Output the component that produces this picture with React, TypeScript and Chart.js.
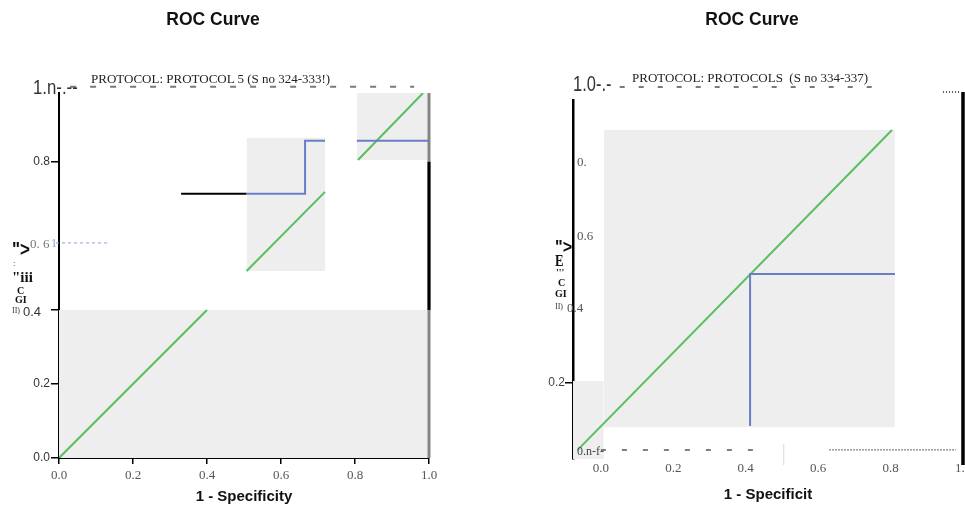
import React, { useEffect, useRef } from "react";
import { Chart, registerables } from "chart.js";
Chart.register(...registerables);

type P = { x: number; y: number | null };

// ---------- Left panel: PROTOCOL 5 ----------
const leftXTicks = [0, 0.2, 0.4, 0.6, 0.8, 1.0];
const leftXLabels = ["0.0", "0.2", "0.4", "0.6", "0.8", "1.0"];
const leftYTicks = [0, 0.2, 0.4, 0.6, 0.8];
const leftYLabels = ["0.0", "0.2", "", "", "0.8"];
const leftYTickMarks = [true, true, true, false, true];
const leftShadeLow: P[] = [{ x: 0, y: 0.4 }, { x: 1, y: 0.4 }];
const leftShadeLowBase = 0;
const leftShadeMid: P[] = [{ x: 0.507, y: 0.865 }, { x: 0.72, y: 0.865 }];
const leftShadeMidBase = 0.505;
const leftShadeTop: P[] = [{ x: 0.805, y: 0.986 }, { x: 1, y: 0.986 }];
const leftShadeTopBase = 0.805;
const leftReference: P[] = [
  { x: 0, y: 0 }, { x: 0.4, y: 0.4 }, { x: 0.45, y: null },
  { x: 0.507, y: 0.505 }, { x: 0.719, y: 0.719 }, { x: 0.76, y: null },
  { x: 0.808, y: 0.805 }, { x: 0.984, y: 0.986 },
];
const leftLead: P[] = [{ x: 0.33, y: 0.714 }, { x: 0.507, y: 0.714 }];
const leftCurveA: P[] = [
  { x: 0.507, y: 0.714 }, { x: 0.665, y: 0.714 }, { x: 0.665, y: 0.857 }, { x: 0.719, y: 0.857 },
];
const leftCurveB: P[] = [{ x: 0.805, y: 0.857 }, { x: 1, y: 0.857 }];
const leftEdgeGrey: P[] = [{ x: 1, y: 0 }, { x: 1, y: 0.986 }];
const leftEdgeBlack: P[] = [{ x: 1, y: 0.4 }, { x: 1, y: 0.8 }];
const leftSixMark: P[] = [{ x: -0.008, y: 0.581 }, { x: 0.132, y: 0.581 }];
const leftTopDash: P[] = [{ x: 0.03, y: 1.003 }, { x: 0.96, y: 1.003 }];

// ---------- Right panel: PROTOCOLS ----------
const rightXTicks = [0, 0.2, 0.4, 0.6, 0.8, 1.0];
const rightXLabels = ["0.0", "0.2", "0.4", "0.6", "0.8", "1.0"];
const rightYTicks = [0.2];
const rightYLabels = ["0.2"];
const rightShadeLeft: P[] = [{ x: -0.077, y: 0.206 }, { x: 0.008, y: 0.206 }];
const rightShadeLeftBase = 0;
const rightShadeMain: P[] = [{ x: 0.008, y: 0.868 }, { x: 0.812, y: 0.868 }];
const rightShadeMainBase = 0.084;
const rightReference: P[] = [{ x: -0.064, y: 0.024 }, { x: 0.804, y: 0.868 }];
const rightCurve: P[] = [{ x: 0.412, y: 0.087 }, { x: 0.412, y: 0.488 }, { x: 0.812, y: 0.488 }];
const rightEdge: P[] = [{ x: 1, y: -0.016 }, { x: 1, y: 0.968 }];
const rightTopDash: P[] = [{ x: 0.052, y: 0.981 }, { x: 0.757, y: 0.981 }];
const rightTopDots: P[] = [{ x: 0.945, y: 0.968 }, { x: 0.99, y: 0.968 }];
const rightBottomDash: P[] = [{ x: 0.0, y: 0.024 }, { x: 0.45, y: 0.024 }];
const rightBottomDots: P[] = [{ x: 0.63, y: 0.024 }, { x: 0.98, y: 0.024 }];
const rightFaint: P[] = [{ x: 0.505, y: -0.016 }, { x: 0.505, y: 0.04 }];

const SANS = "'Liberation Sans', Arial, sans-serif";
const SERIF = "'Liberation Serif', 'Times New Roman', serif";
const NARROW = "'Liberation Sans Narrow', 'Liberation Sans', Arial, sans-serif";
const GREEN = "#58bf5e";
const BLUE = "#6a7ec6";
const SHADE = "#eeeeee";

const lineDs = (data: P[], color: string, width: number, opts: any = {}) => ({
  type: "line",
  data,
  borderColor: color,
  backgroundColor: color,
  borderWidth: width,
  pointRadius: 0,
  pointHoverRadius: 0,
  fill: false,
  tension: 0,
  spanGaps: false,
  order: 1,
  ...opts,
});

const shadeDs = (data: P[], base: number) => ({
  type: "line",
  data,
  borderWidth: 0,
  borderColor: "rgba(0,0,0,0)",
  backgroundColor: SHADE,
  fill: { value: base },
  pointRadius: 0,
  pointHoverRadius: 0,
  tension: 0,
  order: 9,
});

const fixTicks = (vals: number[]) => (s: any) => {
  s.ticks = vals.map((v) => ({ value: v }));
};

function leftConfig(): any {
  return {
    type: "line",
    data: {
      datasets: [
        shadeDs(leftShadeLow, leftShadeLowBase),
        shadeDs(leftShadeMid, leftShadeMidBase),
        shadeDs(leftShadeTop, leftShadeTopBase),
        lineDs(leftEdgeGrey, "#858585", 3, { order: 4, clip: false }),
        lineDs(leftEdgeBlack, "#000", 3, { order: 3, clip: false }),
        lineDs(leftReference, GREEN, 2, { order: 2 }),
        lineDs(leftLead, "#000", 2, { order: 1 }),
        lineDs(leftCurveA, BLUE, 2, { order: 0 }),
        lineDs(leftCurveB, BLUE, 2, { order: 0 }),
        lineDs(leftSixMark, "#8fa0d6", 1, { borderDash: [3, 3], clip: false }),
        lineDs(leftTopDash, "#7a7a7a", 2, { borderDash: [6, 14], clip: false }),
      ],
    },
    options: {
      animation: false,
      responsive: false,
      devicePixelRatio: 1,
      events: [],
      layout: { padding: { top: 93, right: 53, left: 0, bottom: 0 } },
      plugins: { legend: { display: false }, tooltip: { enabled: false }, title: { display: false } },
      scales: {
        x: {
          type: "linear",
          min: 0,
          max: 1,
          afterBuildTicks: fixTicks(leftXTicks),
          afterFit: (s: any) => { s.height = 49; },
          grid: { drawOnChartArea: false, drawTicks: true, tickLength: 6, color: "#000", lineWidth: 1.5 },
          border: { display: true, color: "#000", width: 2 },
          ticks: {
            callback: (_v: any, i: number) => leftXLabels[i],
            font: { family: SERIF, size: 13 },
            color: "#555",
            padding: 4,
            maxRotation: 0,
            autoSkip: false,
          },
          title: {
            display: true,
            text: "1 - Specificity",
            font: { family: SANS, size: 15, weight: "bold" },
            color: "#111",
            padding: { top: 0, bottom: 1 },
          },
        },
        y: {
          type: "linear",
          min: 0,
          max: 0.986,
          afterBuildTicks: fixTicks(leftYTicks),
          afterFit: (s: any) => { s.width = 59; },
          grid: {
            drawOnChartArea: false,
            drawTicks: true,
            tickLength: 8,
            lineWidth: 1.5,
            color: (ctx: any) => (leftYTickMarks[ctx.index] ? "#000" : "rgba(0,0,0,0)"),
          },
          border: { display: true, color: "#000", width: 2 },
          ticks: {
            callback: (_v: any, i: number) => leftYLabels[i],
            font: { family: NARROW, size: 12 },
            color: "#333",
            padding: 1,
            autoSkip: false,
          },
        },
      },
    },
  };
}

function rightConfig(): any {
  return {
    type: "line",
    data: {
      datasets: [
        shadeDs(rightShadeLeft, rightShadeLeftBase),
        shadeDs(rightShadeMain, rightShadeMainBase),
        lineDs(rightEdge, "#000", 3.5, { clip: false, order: 3 }),
        lineDs(rightReference, GREEN, 2, { order: 2 }),
        lineDs(rightCurve, BLUE, 2, { order: 0 }),
        lineDs(rightTopDash, "#7a7a7a", 2, { borderDash: [5, 14], clip: false }),
        lineDs(rightTopDots, "#555", 2, { borderDash: [1, 2], clip: false }),
        lineDs(rightBottomDash, "#555", 1.5, { borderDash: [5, 16] }),
        lineDs(rightBottomDots, "#666", 1, { borderDash: [2, 1] }),
        lineDs(rightFaint, "#d8d8d8", 1, { clip: false }),
      ],
    },
    options: {
      animation: false,
      responsive: false,
      devicePixelRatio: 1,
      events: [],
      layout: { padding: { top: 100, right: 19, left: 0, bottom: 0 } },
      plugins: { legend: { display: false }, tooltip: { enabled: false }, title: { display: false } },
      scales: {
        x: {
          type: "linear",
          min: -0.077,
          max: 1,
          afterBuildTicks: fixTicks(rightXTicks),
          afterFit: (s: any) => { s.height = 48; },
          grid: { drawOnChartArea: false, drawTicks: false, display: true, color: "rgba(0,0,0,0)" },
          border: { display: false },
          ticks: {
            callback: (_v: any, i: number) => rightXLabels[i],
            font: { family: SERIF, size: 13 },
            color: "#555",
            padding: 2,
            maxRotation: 0,
            autoSkip: false,
          },
          title: {
            display: true,
            text: "1 - Specificit",
            font: { family: SANS, size: 15, weight: "bold" },
            color: "#111",
            padding: { top: 0, bottom: 3 },
          },
        },
        y: {
          type: "linear",
          min: 0,
          max: 0.947,
          afterBuildTicks: fixTicks(rightYTicks),
          afterFit: (s: any) => { s.width = 91; },
          grid: { drawOnChartArea: false, drawTicks: true, tickLength: 8, lineWidth: 1.5, color: "#000" },
          border: { display: true, color: "#000", width: 2.5 },
          ticks: {
            callback: (_v: any, i: number) => rightYLabels[i],
            font: { family: NARROW, size: 12 },
            color: "#444",
            padding: 0,
            autoSkip: false,
          },
        },
      },
    },
  };
}

function Panel({ left, width, height, make }: { left: number; width: number; height: number; make: () => any }) {
  const ref = useRef<HTMLCanvasElement | null>(null);
  useEffect(() => {
    if (!ref.current) return;
    const chart = new Chart(ref.current, make());
    return () => chart.destroy();
  }, []);
  return (
    <canvas
      ref={ref}
      width={width}
      height={height}
      style={{ position: "absolute", left, top: 0, width, height }}
    />
  );
}

function T({
  x, y, size, family = SANS, weight = "normal", color = "#222", center = false, sx = 1, children,
}: any) {
  return (
    <span
      style={{
        position: "absolute",
        left: x,
        top: y,
        fontSize: size,
        fontFamily: family,
        fontWeight: weight,
        color,
        lineHeight: 1,
        whiteSpace: "pre",
        transform: `translate(${center ? "-50%" : "0"}, -50%) scaleX(${sx})`,
        transformOrigin: center ? "center center" : "left center",
      }}
    >
      {children}
    </span>
  );
}

export default function App() {
  return (
    <div
      style={{
        position: "absolute",
        left: 0,
        top: 0,
        width: 965,
        height: 507,
        overflow: "hidden",
        background: "#fff",
      }}
    >
      <Panel left={0} width={482} height={507} make={leftConfig} />
      <Panel left={482} width={500} height={507} make={rightConfig} />

      {/* Left panel texts */}
      <T x={213} y={20} size={17.5} weight="bold" center color="#111">ROC Curve</T>
      <T x={33} y={86} size={21} family={NARROW} color="#333" sx={0.8}>1.n-.--</T>
      <T x={91} y={78} size={13} family={SERIF} color="#222">PROTOCOL: PROTOCOL 5 (S no 324-333!)</T>
      <T x={30} y={243} size={13} family={SERIF} color="#777">0. 6</T>
      <T x={51} y={243} size={12} family={SERIF} color="#8fa0d6">1</T>
      <T x={12} y={249} size={20} weight="bold" color="#111" sx={0.85}>"&gt;</T>
      <T x={13} y={264} size={8} weight="bold" color="#777">:</T>
      <T x={12} y={277} size={15} family={SERIF} weight="bold" color="#111">"iii</T>
      <T x={17} y={291} size={10} family={SERIF} weight="bold" color="#111">C</T>
      <T x={15} y={300} size={10} family={SERIF} weight="bold" color="#111">GI</T>
      <T x={12} y={311} size={8} family={SERIF} color="#333">II)</T>
      <T x={23} y={311} size={13} family={NARROW} color="#333">0.4</T>

      {/* Right panel texts */}
      <T x={752} y={20} size={17.5} weight="bold" center color="#111">ROC Curve</T>
      <T x={573} y={84} size={22} family={NARROW} color="#333" sx={0.75}>1.0-.-</T>
      <T x={632} y={77} size={13} family={SERIF} color="#222">PROTOCOL: PROTOCOLS  (S no 334-337)</T>
      <T x={577} y={161} size={13} family={SERIF} color="#555">0.</T>
      <T x={577} y={235} size={13} family={SERIF} color="#555">0.6</T>
      <T x={555} y={246} size={19} weight="bold" color="#111" sx={0.85}>"&gt;</T>
      <T x={555} y={261} size={16} family={SERIF} weight="bold" color="#111" sx={0.8}>E</T>
      <T x={556} y={273} size={10} family={SERIF} weight="bold" color="#111">'''</T>
      <T x={558} y={283} size={10} family={SERIF} weight="bold" color="#111">C</T>
      <T x={555} y={294} size={10} family={SERIF} weight="bold" color="#111">GI</T>
      <T x={555} y={307} size={8} family={SERIF} color="#333">II)</T>
      <T x={567} y={307} size={13} family={SERIF} color="#555">0.4</T>
      <T x={577} y={451} size={12} family={SERIF} color="#444">0.n-f-</T>
    </div>
  );
}
